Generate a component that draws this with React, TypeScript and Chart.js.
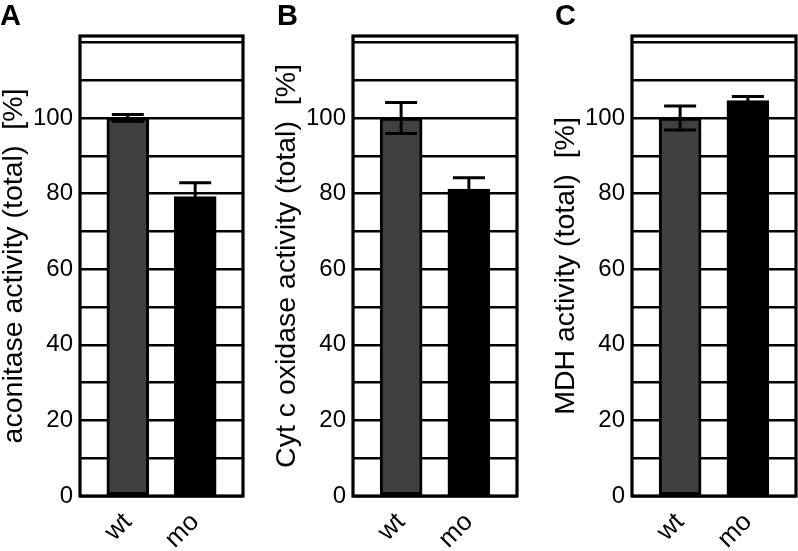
import React, { useEffect, useRef } from 'react';
import { Chart, registerables } from 'chart.js';

Chart.register(...registerables);

const categories = ['wt', 'mo'];
const aconitaseValues = [100, 79.2];
const aconitaseErrors = [0.9, 3.7];
const cytOxidaseValues = [100, 81.2];
const cytOxidaseErrors = [4.1, 3.0];
const mdhValues = [100, 104.6];
const mdhErrors = [3.2, 1.1];
const yGridTicks = [0, 10, 20, 30, 40, 50, 60, 70, 80, 90, 100, 110, 120];
const yLabelTicks = [0, 20, 40, 60, 80, 100];
const barColors = ['#404040', '#000000'];

const FONT = "'Liberation Sans', Arial, Helvetica, sans-serif";

type PanelDef = {
  letter: string;
  title: string;
  values: number[];
  errors: number[];
  left: number;
  width: number;
  letterX: number;
  padRight: number;
};

const panels: PanelDef[] = [
  { letter: 'A', title: 'aconitase activity (total)  [%]', values: aconitaseValues, errors: aconitaseErrors, left: 0, width: 265, letterX: 0, padRight: 22 },
  { letter: 'B', title: 'Cyt c oxidase activity (total)  [%]', values: cytOxidaseValues, errors: cytOxidaseErrors, left: 273, width: 266, letterX: 4, padRight: 22 },
  { letter: 'C', title: 'MDH activity (total)  [%]', values: mdhValues, errors: mdhErrors, left: 552, width: 246, letterX: 3, padRight: 2 },
];

function Panel({ def }: { def: PanelDef }) {
  const ref = useRef<HTMLCanvasElement | null>(null);
  useEffect(() => {
    if (!ref.current) return;
    const overlay = {
      id: 'overlay',
      afterDatasetsDraw(chart: any) {
        const ctx = chart.ctx;
        const ys = chart.scales.y;
        const meta = chart.getDatasetMeta(0);
        ctx.save();
        ctx.strokeStyle = '#000';
        ctx.lineWidth = 3;
        def.values.forEach((v, i) => {
          const el = meta.data[i];
          const x = el.x;
          const yt = ys.getPixelForValue(v + def.errors[i]);
          const yb = ys.getPixelForValue(v - def.errors[i]);
          ctx.beginPath();
          ctx.moveTo(x, yt);
          ctx.lineTo(x, yb);
          ctx.moveTo(x - 16, yt);
          ctx.lineTo(x + 16, yt);
          ctx.moveTo(x - 16, yb);
          ctx.lineTo(x + 16, yb);
          ctx.stroke();
        });
        const a = chart.chartArea;
        ctx.lineWidth = 3.2;
        ctx.strokeRect(a.left, a.top, a.right - a.left, a.bottom - a.top);
        ctx.restore();
      },
      afterDraw(chart: any) {
        const ctx = chart.ctx;
        ctx.save();
        ctx.fillStyle = '#000';
        ctx.font = `bold 29px ${FONT}`;
        ctx.textBaseline = 'alphabetic';
        ctx.textAlign = 'left';
        ctx.fillText(def.letter, def.letterX, 25);
        ctx.restore();
      },
    };
    const chart = new Chart(ref.current, {
      type: 'bar',
      data: {
        datasets: [
          {
            data: categories.map((c, i) => ({ x: i + 1, y: def.values[i] })) as any,
            backgroundColor: barColors,
            borderColor: '#000',
            borderWidth: 3,
            borderSkipped: false,
            barThickness: 42,
          },
        ],
      },
      options: {
        responsive: false,
        maintainAspectRatio: false,
        animation: false,
        layout: { padding: { top: 36, right: def.padRight, left: 0, bottom: 0 } },
        plugins: { legend: { display: false }, tooltip: { enabled: false }, title: { display: false } },
        scales: {
          x: {
            type: 'linear',
            offset: false,
            min: 0.29,
            max: 2.71,
            afterBuildTicks: (s: any) => {
              s.ticks = categories.map((c, i) => ({ value: i + 1 }));
            },
            afterFit: (s: any) => {
              s.height = 55;
            },
            ticks: {
              callback: (v: any) => categories[Math.round(Number(v)) - 1] ?? '',
              font: { family: FONT, size: 26 },
              color: '#000',
              minRotation: 45,
              maxRotation: 45,
              autoSkip: false,
              padding: 3,
            },
            grid: { display: false, offset: false },
            border: { display: false },
          },
          y: {
            min: 0,
            max: 121.7,
            afterBuildTicks: (s: any) => {
              s.ticks = yGridTicks.map((v) => ({ value: v }));
            },
            afterFit: (s: any) => {
              s.width = 80;
            },
            ticks: {
              callback: (v: any) => (yLabelTicks.includes(Number(v)) ? String(v) : ''),
              font: { family: FONT, size: 24 },
              color: '#000',
              padding: 7,
              autoSkip: false,
            },
            grid: { color: '#000', lineWidth: 2.6, drawTicks: false },
            border: { display: false },
            title: {
              display: true,
              text: def.title,
              color: '#000',
              font: { family: FONT, size: 28.5, lineHeight: 1 },
              padding: { top: 0, bottom: 0 },
            },
          },
        },
      } as any,
      plugins: [overlay],
    });
    return () => chart.destroy();
  }, [def]);
  return (
    <canvas
      ref={ref}
      width={def.width}
      height={551}
      style={{ position: 'absolute', left: def.left, top: 0, width: def.width, height: 551 }}
    />
  );
}

export default function App() {
  return (
    <div style={{ position: 'absolute', left: 0, top: 0, width: 798, height: 551, background: '#fff' }}>
      {panels.map((p) => (
        <Panel key={p.letter} def={p} />
      ))}
    </div>
  );
}
